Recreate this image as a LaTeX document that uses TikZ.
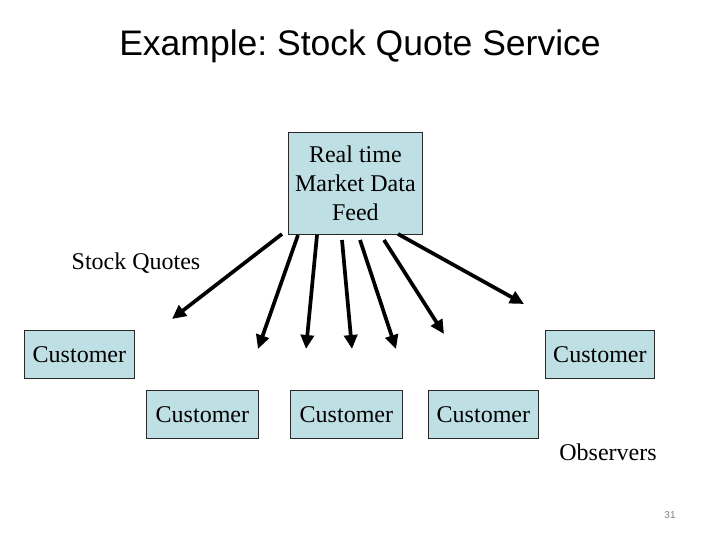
\documentclass[tikz,border=0pt]{standalone}
\usepackage{fontspec}
\setmainfont{Liberation Serif}
\newfontfamily\arialfont{Liberation Sans}
\usetikzlibrary{arrows.meta}
\frenchspacing
\definecolor{boxfill}{RGB}{190,224,228}
\definecolor{boxline}{RGB}{40,40,40}
\tikzset{
  custbox/.style={draw=boxline, line width=0.8pt, fill=boxfill, inner sep=0pt, anchor=north west, font=\fontsize{24}{29}\selectfont},
  feedarrow/.style={line width=3.7pt, -{Triangle[length=14pt,width=13pt]}},
  lbl/.style={font=\fontsize{24}{29}\selectfont, inner sep=0pt}
}
\begin{document}
\begin{tikzpicture}[x=1pt,y=-1pt]
\useasboundingbox (0,0) rectangle (720,540);
\node[font=\arialfont\fontsize{35.5}{40}\selectfont, inner sep=0pt] (title) at (360,46) {Example: Stock Quote Service};
\node[custbox, minimum width=134pt, minimum height=102pt, align=center] (feed) at (288,132) {Real time\\Market Data\\Feed};
\node[custbox, minimum width=110pt, minimum height=48pt] (c1) at (24,330) {Customer};
\node[custbox, minimum width=109pt, minimum height=48pt] (c2) at (545,330) {Customer};
\node[custbox, minimum width=112pt, minimum height=48pt] (c3) at (146,390) {Customer};
\node[custbox, minimum width=112pt, minimum height=48pt] (c4) at (290,390) {Customer};
\node[custbox, minimum width=110pt, minimum height=48pt] (c5) at (428,390) {Customer};
\node[lbl] (sq) at (136,263) {Stock Quotes};
\node[lbl] (obs) at (608,452) {Observers};
\node[font=\arialfont\fontsize{10}{12}\selectfont, text=gray, inner sep=0pt] (pg) at (670,515) {31};
\coordinate (s1) at (282,234); \coordinate (e1) at (172,319);
\coordinate (s2) at (298,235); \coordinate (e2) at (258,349);
\coordinate (s3) at (317,235); \coordinate (e3) at (306,349);
\coordinate (s4) at (342,240); \coordinate (e4) at (352,349);
\coordinate (s5) at (360,240); \coordinate (e5) at (396,349);
\coordinate (s6) at (384,240); \coordinate (e6) at (444,334);
\coordinate (s7) at (398,234); \coordinate (e7) at (524,304);
\foreach \i in {1,...,7} {\draw[feedarrow] (s\i) -- (e\i);}
\end{tikzpicture}
\end{document}
